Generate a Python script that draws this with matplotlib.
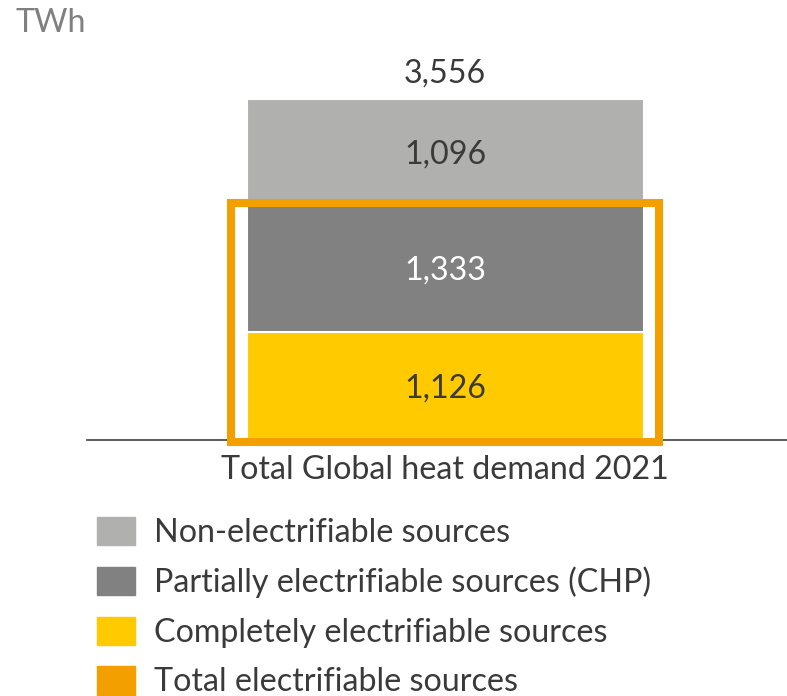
import matplotlib.pyplot as plt
from matplotlib.patches import Patch, Rectangle

plt.rcParams['font.family'] = ['Lato', 'DejaVu Sans']

# TWh, bottom to top
segments = ['Completely electrifiable sources',
            'Partially electrifiable sources (CHP)',
            'Non-electrifiable sources']
values = [1126, 1333, 1096]
total = 3556
category = 'Total Global heat demand 2021'

colors = ['#ffcb00', '#818181', '#b0b0af']
label_colors = ['#3a3a3a', 'white', '#3a3a3a']
frame_color = '#f39f00'
text_dark = '#3a3a3a'
fs = 23.2

fig = plt.figure(figsize=(7.87, 6.96), dpi=100)
ax = fig.add_axes([87 / 787, (696 - 440) / 696, 700 / 787, 400 / 696])

bar_w = 0.5
bottom = 0
for val, col, lc in zip(values, colors, label_colors):
    ax.bar(0, val, bottom=bottom, width=bar_w, color=col,
           edgecolor='white', linewidth=1.5)
    ax.annotate(f'{val:,}', (0, bottom + val / 2), xytext=(0, -2),
                textcoords='offset points', ha='center', va='center',
                fontsize=fs, color=lc)
    bottom += val

ax.annotate(f'{total:,}', (0, bottom), xytext=(0, 7.5), textcoords='offset points',
            ha='center', va='bottom', fontsize=fs, color=text_dark)

# frame around the electrifiable part
elec = values[0] + values[1]
pad_x = 0.02
ax.add_patch(Rectangle((-bar_w / 2 - pad_x, -20), bar_w + 2 * pad_x, elec + 35,
                       fill=False, edgecolor=frame_color, linewidth=5.8,
                       clip_on=False, zorder=5))

ax.set_xlim(-0.451, 0.4307)
ax.set_ylim(0, 4171)
ax.set_xticks([0])
ax.set_xticklabels([category], fontsize=fs, color=text_dark)
ax.tick_params(axis='x', length=0, pad=11)
ax.set_yticks([])
for s in ['top', 'right', 'left']:
    ax.spines[s].set_visible(False)
ax.spines['bottom'].set_color('#404040')
ax.spines['bottom'].set_linewidth(1.2)

fig.text(15 / 787, 1 - 23 / 696, 'TWh', fontsize=fs, color='#808080',
         ha='left', va='center')

handles = [Patch(color=c) for c in colors[::-1]] + [Patch(color=frame_color)]
labels = segments[::-1] + ['Total electrifiable sources']
fig.legend(handles, labels, loc='upper left',
           bbox_to_anchor=(97 / 787, 1 - 517 / 696), frameon=False,
           fontsize=fs, handlelength=1.18, handleheight=0.98,
           labelspacing=0.57, handletextpad=0.6, borderpad=0,
           borderaxespad=0, labelcolor=text_dark)

fig.savefig('out.png', dpi=100)
